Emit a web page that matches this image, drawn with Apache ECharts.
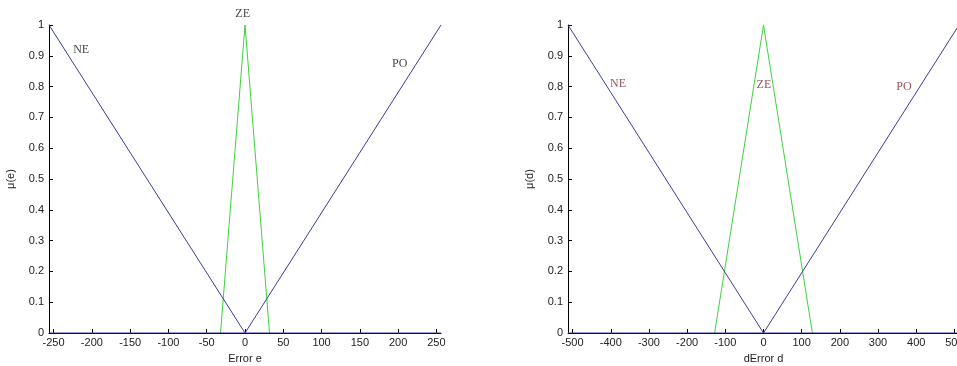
<!DOCTYPE html>
<html>
<head>
<meta charset="utf-8">
<script src="https://cdn.jsdelivr.net/npm/echarts@6/dist/echarts.min.js"></script>
<style>
  html, body { margin: 0; padding: 0; background: #fff; }
  #chart { width: 957px; height: 366px; }
</style>
</head>
<body>
<div id="chart"></div>
<script>
// membership functions for e (left) and d (right), [x, mu] corner points
const eNE = [[-256, 1], [0, 0], [256, 0]];
const eZE = [[-32, 0], [0, 1], [32, 0]];
const ePO = [[-256, 0], [0, 0], [256, 1]];

const dNE = [[-512, 1], [0, 0], [512, 0]];
const dZE = [[-128, 0], [0, 1], [128, 0]];
const dPO = [[-512, 0], [0, 0], [512, 1]];

const eTicks = [-250, -200, -150, -100, -50, 0, 50, 100, 150, 200, 250];
const dTicks = [-500, -400, -300, -200, -100, 0, 100, 200, 300, 400, 500];

// label anchors in data coords
const eLabels = [
    { name: "NE", value: [-214, 0.92] },
    { name: "ZE", value: [-3, 1.036] },
    { name: "PO", value: [202, 0.873] }
];
const dLabels = [
    { name: "NE", value: [-381, 0.81] },
    { name: "ZE", value: [1, 0.805] },
    { name: "PO", value: [368, 0.80] }
];

const BLUE = "#3c3ca0";
const GREEN = "#3fd03f";
const font = "Liberation Sans";

function xAxisFor(idx, lim, ticks, name) {
    return {
        gridIndex: idx,
        type: "value",
        min: -lim,
        max: lim,
        name: name,
        nameLocation: "middle",
        nameGap: 20,
        nameTextStyle: { fontFamily: font, fontSize: 11, color: "#222" },
        axisLine: { onZero: false, lineStyle: { color: "#000", width: 1 } },
        axisTick: { inside: true, length: 4, lineStyle: { color: "#000" }, customValues: ticks },
        axisLabel: { fontFamily: font, fontSize: 11, color: "#222", margin: 4, customValues: ticks },
        splitLine: { show: false }
    };
}

function yAxisFor(idx, name) {
    return {
        gridIndex: idx,
        type: "value",
        min: 0,
        max: 1,
        interval: 0.1,
        name: name,
        nameLocation: "middle",
        nameGap: 33,
        nameTextStyle: { fontFamily: font, fontSize: 11, color: "#222" },
        axisLine: { show: true, onZero: false, lineStyle: { color: "#000", width: 1 } },
        axisTick: { show: true, inside: true, length: 4, lineStyle: { color: "#000" } },
        axisLabel: { fontFamily: font, fontSize: 11, color: "#222", margin: 5 },
        splitLine: { show: false }
    };
}

function mfLine(idx, data, color) {
    return {
        type: "line",
        xAxisIndex: idx,
        yAxisIndex: idx,
        data: data,
        symbol: "none",
        animation: false,
        lineStyle: { color: color, width: 1 },
        z: color === BLUE ? 4 : 3
    };
}

function labelSeries(idx, data, color) {
    return {
        type: "scatter",
        xAxisIndex: idx,
        yAxisIndex: idx,
        data: data,
        symbolSize: 0,
        clip: false,
        silent: true,
        animation: false,
        label: {
            show: true,
            position: "inside",
            formatter: p => p.name,
            fontFamily: "Liberation Serif",
            fontSize: 12,
            color: color
        },
        z: 5
    };
}

const chart = echarts.init(document.getElementById("chart"), null, { renderer: "canvas" });

chart.setOption({
    backgroundColor: "#fff",
    animation: false,
    grid: [
        { left: 49, top: 25, width: 392, height: 308, outerBoundsMode: "none" },
        { left: 568, top: 25, width: 391, height: 308, outerBoundsMode: "none" }
    ],
    xAxis: [
        xAxisFor(0, 256, eTicks, "Error e"),
        xAxisFor(1, 512, dTicks, "dError d")
    ],
    yAxis: [
        yAxisFor(0, "\u03bc(e)"),
        yAxisFor(1, "\u03bc(d)")
    ],
    series: [
        mfLine(0, eZE, GREEN),
        mfLine(0, eNE, BLUE),
        mfLine(0, ePO, BLUE),
        mfLine(1, dZE, GREEN),
        mfLine(1, dNE, BLUE),
        mfLine(1, dPO, BLUE),
        labelSeries(0, eLabels, "#111"),
        labelSeries(1, dLabels, "#7a1f2a")
    ]
});
</script>
</body>
</html>
